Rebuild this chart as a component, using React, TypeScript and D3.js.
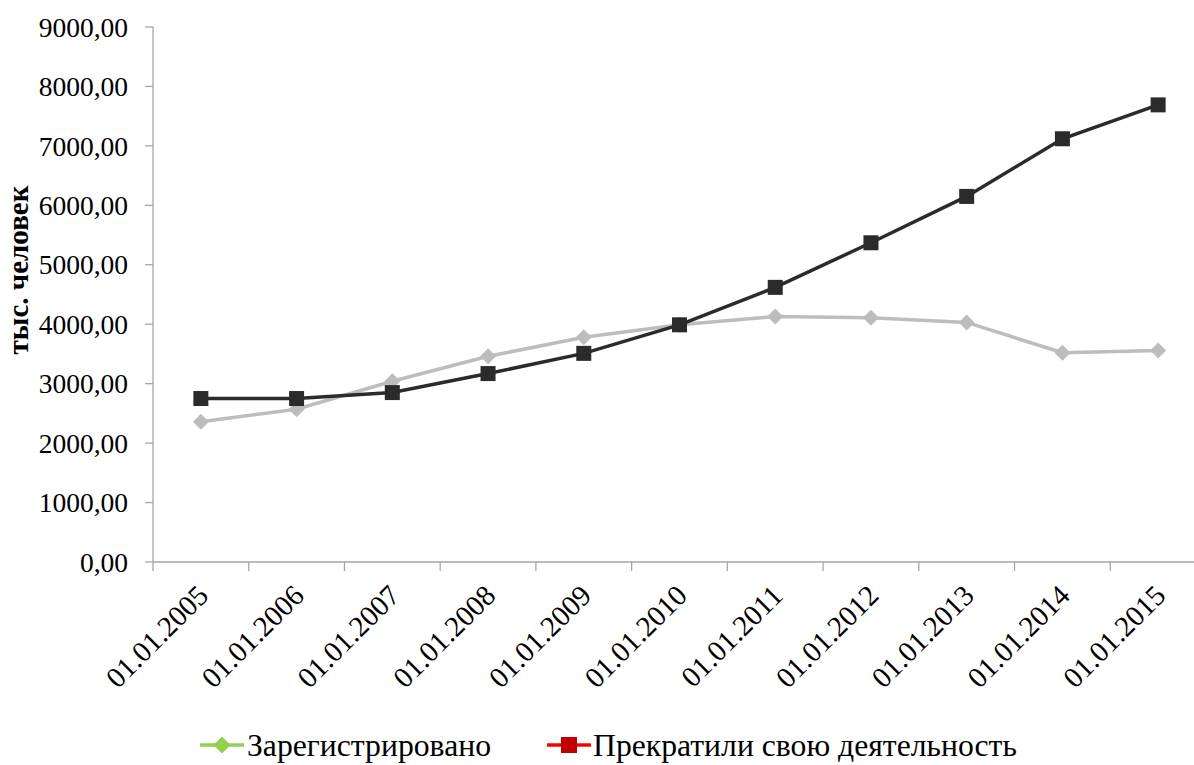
// Line chart: registered vs ceased (thousand people), 2005-2015

import * as d3 from "d3";

const categories = [
  "01.01.2005", "01.01.2006", "01.01.2007", "01.01.2008", "01.01.2009", "01.01.2010",
  "01.01.2011", "01.01.2012", "01.01.2013", "01.01.2014", "01.01.2015",
];
const registered = [2360, 2570, 3040, 3460, 3780, 3990, 4130, 4110, 4030, 3520, 3560];
const ceased = [2750, 2750, 2850, 3170, 3510, 3990, 4620, 5370, 6150, 7120, 7690];
const yTicks = [0, 1000, 2000, 3000, 4000, 5000, 6000, 7000, 8000, 9000];
const seriesNames = ["Зарегистрировано", "Прекратили свою деятельность"];

const width = 1194;
const height = 765;
const margin = { left: 153, right: -12, top: 27, bottom: 203 };
const font = '"Liberation Serif", "DejaVu Serif", serif';

export default function App() {
  const x = d3
    .scaleBand<string>()
    .domain(categories)
    .range([margin.left, width - margin.right]);
  const y = d3
    .scaleLinear()
    .domain([0, 9000])
    .range([height - margin.bottom, margin.top]);

  const cx = (i: number) => (x(categories[i]) ?? 0) + x.bandwidth() / 2;
  const line = d3
    .line<number>()
    .x((_, i) => cx(i))
    .y((d) => y(d));

  const diamond = (px: number, py: number, r: number) =>
    `M${px},${py - r}L${px + r},${py}L${px},${py + r}L${px - r},${py}Z`;

  const axisColor = "#a6a6a6";
  const grayColor = "#bdbdbd";
  const darkColor = "#2b2b2b";
  const y0 = y(0);
  const txt = { fontFamily: font };

  return (
    <svg
      width={width}
      height={height}
      style={{ position: "absolute", left: 0, top: 0, background: "#fff", fontFamily: font }}
    >
      {/* y axis */}
      <line x1={margin.left} x2={margin.left} y1={y(9000)} y2={y0} stroke={axisColor} strokeWidth={1.3} />
      {yTicks.map((t) => (
        <g key={t}>
          <line x1={margin.left - 8} x2={margin.left} y1={y(t)} y2={y(t)} stroke={axisColor} strokeWidth={1.3} />
          <text
            x={margin.left - 25}
            y={y(t)}
            dy="0.35em"
            textAnchor="end"
            fontSize={27.5}
            fill="#000"
            style={txt}
          >
            {d3.format(".2f")(t).replace(".", ",")}
          </text>
        </g>
      ))}
      <text
        transform={`translate(28, 270) rotate(-90)`}
        textAnchor="middle"
        fontSize={29}
        fontWeight="bold"
        style={txt}
      >
        тыс. человек
      </text>

      {/* x axis */}
      <line x1={margin.left} x2={width} y1={y0} y2={y0} stroke={axisColor} strokeWidth={1.3} />
      {categories.map((c) => (
        <line
          key={c}
          x1={x(c) ?? 0}
          x2={x(c) ?? 0}
          y1={y0}
          y2={y0 + 9}
          stroke={axisColor}
          strokeWidth={1.3}
        />
      ))}
      {categories.map((c, i) => (
        <text
          key={c}
          transform={`translate(${cx(i) + 2}, ${y0 + 28}) rotate(-45)`}
          textAnchor="end"
          dy="0.35em"
          fontSize={29}
          fill="#000"
          style={txt}
        >
          {c}
        </text>
      ))}

      {/* series */}
      <path d={line(registered) ?? ""} fill="none" stroke={grayColor} strokeWidth={3.5} />
      {registered.map((v, i) => (
        <path key={i} d={diamond(cx(i), y(v), 8)} fill={grayColor} />
      ))}
      <path d={line(ceased) ?? ""} fill="none" stroke={darkColor} strokeWidth={3.5} />
      {ceased.map((v, i) => (
        <rect key={i} x={cx(i) - 7.5} y={y(v) - 7.5} width={15} height={15} fill={darkColor} />
      ))}

      {/* legend */}
      <g transform="translate(200, 745)">
        <line x1={0} x2={44} y1={0} y2={0} stroke="#92d050" strokeWidth={3.5} />
        <path d={diamond(22, 0, 8.5)} fill="#92d050" />
        <text x={47} y={0} dy="0.35em" fontSize={31.7} style={txt}>
          {seriesNames[0]}
        </text>
      </g>
      <g transform="translate(547, 745)">
        <line x1={0} x2={44} y1={0} y2={0} stroke="#ff0000" strokeWidth={3.5} />
        <rect x={14} y={-8} width={16} height={16} fill="#c00000" />
        <text x={46} y={0} dy="0.35em" fontSize={31.7} style={txt}>
          {seriesNames[1]}
        </text>
      </g>
    </svg>
  );
}
